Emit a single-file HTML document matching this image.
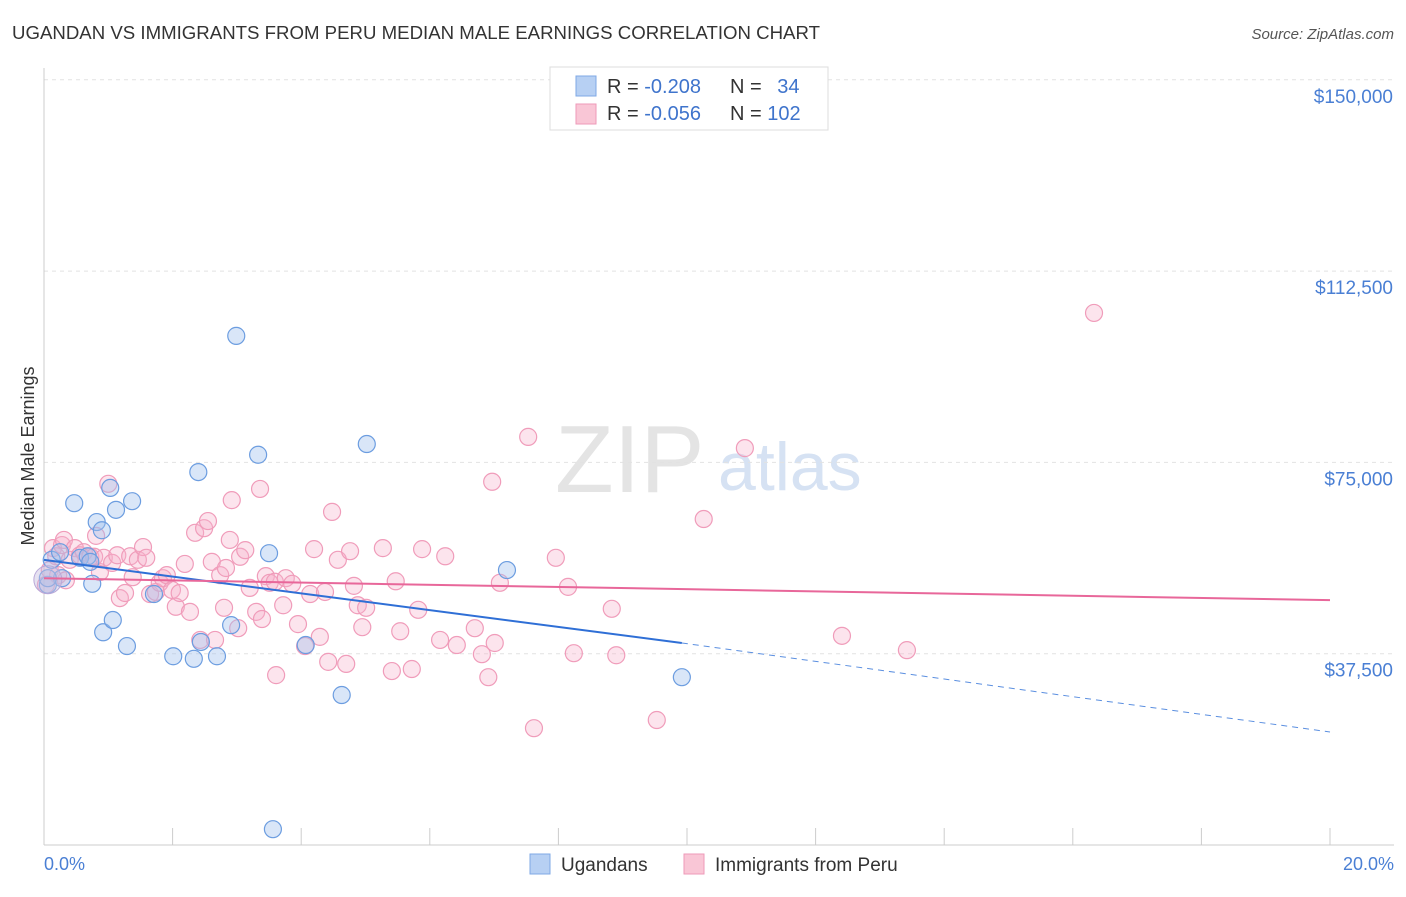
<!DOCTYPE html>
<html><head><meta charset="utf-8">
<style>
body{margin:0;background:#fff;font-family:"Liberation Sans",sans-serif;}
svg text{font-family:"Liberation Sans",sans-serif;}
</style></head>
<body>
<svg id="chart" width="1406" height="892" xmlns="http://www.w3.org/2000/svg">
<text x="12" y="39" font-size="18" fill="#333" textLength="808" lengthAdjust="spacingAndGlyphs">UGANDAN VS IMMIGRANTS FROM PERU MEDIAN MALE EARNINGS CORRELATION CHART</text>
<text x="1394" y="39" font-size="15" fill="#555" text-anchor="end" font-style="italic">Source: ZipAtlas.com</text>
<text x="555" y="492" font-size="96" fill="#e4e4e4" font-family="Liberation Serif">ZIP</text>
<text x="718" y="490" font-size="68" fill="#d6e2f3">atlas</text>
<g id="grid"></g>
<g id="axes"></g>
<g id="pts"></g>
<g id="trend"></g>
<text transform="translate(34,456) rotate(-90)" font-size="18" fill="#333" text-anchor="middle">Median Male Earnings</text>
<text x="44" y="870" font-size="18" fill="#4a7fd4">0.0%</text>
<text x="1394" y="870" font-size="18" fill="#4a7fd4" text-anchor="end">20.0%</text>
<g>
<rect x="550" y="67" width="278" height="63" fill="#fff" stroke="#ddd"/>
<rect x="576" y="76" width="20" height="20" fill="#b7d0f3" stroke="#7fa8e6"/>
<rect x="576" y="104" width="20" height="20" fill="#f9c6d6" stroke="#ee9ab8"/>
<text x="607" y="93" font-size="20" fill="#333">R = <tspan fill="#3f74cc">-0.208</tspan></text>
<text x="730" y="93" font-size="20" fill="#333">N = <tspan fill="#3f74cc" dx="10">34</tspan></text>
<text x="607" y="120" font-size="20" fill="#333">R = <tspan fill="#3f74cc">-0.056</tspan></text>
<text x="730" y="120" font-size="20" fill="#333">N = <tspan fill="#3f74cc">102</tspan></text>
</g>
<g>
<rect x="530" y="854" width="20" height="20" fill="#b7d0f3" stroke="#7fa8e6"/>
<text x="561" y="871" font-size="19" fill="#333">Ugandans</text>
<rect x="684" y="854" width="20" height="20" fill="#f9c6d6" stroke="#ee9ab8"/>
<text x="715" y="871" font-size="19" fill="#333">Immigrants from Peru</text>
</g>
</svg>
<script>
const yTicks=[37500,75000,112500,150000];
const yTickLabels=["$37,500","$75,000","$112,500","$150,000"];
const xTicks=[0,2,4,6,8,10,12,14,16,18,20];
const blueX=[0.06,0.12,0.25,0.28,0.47,0.56,0.68,0.75,0.82,0.90,0.92,1.03,1.07,1.12,1.29,1.37,1.71,2.01,2.33,2.40,2.44,2.69,2.91,2.99,3.33,3.50,3.56,4.07,4.63,5.02,7.20,9.92,0.06,0.72];
const blueY=[51000,55900,57400,52300,67000,56300,56600,51200,63300,61700,41700,70000,44100,65700,39000,67400,49200,37000,36500,73100,39800,37000,43100,99800,76500,57200,3100,39200,29400,78600,53900,32900,52300,55500];
const pinkX=[0.03,0.09,0.14,0.19,0.22,0.28,0.31,0.34,0.40,0.48,0.56,0.62,0.72,0.78,0.81,0.87,0.93,1.00,1.06,1.14,1.18,1.26,1.34,1.38,1.46,1.54,1.59,1.65,1.74,1.80,1.85,1.91,1.99,2.05,2.11,2.19,2.27,2.35,2.43,2.49,2.55,2.61,2.66,2.74,2.80,2.83,2.89,2.92,3.02,3.05,3.13,3.20,3.30,3.36,3.39,3.45,3.51,3.59,3.61,3.72,3.76,3.86,3.95,4.06,4.14,4.20,4.29,4.37,4.42,4.48,4.57,4.70,4.76,4.82,4.88,4.95,5.01,5.27,5.41,5.47,5.54,5.72,5.82,5.88,6.16,6.24,6.42,6.70,6.81,6.91,6.97,7.01,7.09,7.53,7.62,7.96,8.15,8.24,8.83,8.90,9.53,10.26,10.90,12.41,13.42,16.33];
const pinkY=[51000,53900,58200,56600,52900,58800,59800,51900,55900,58200,56800,57400,56500,56500,60600,53500,56300,70800,55300,56800,48400,49400,56600,52500,55900,58400,56300,49200,49600,51400,52300,52900,50000,46700,49400,55100,45700,61200,40200,62100,63500,55500,40200,52900,46500,54300,59800,67600,42500,56500,57800,50400,45700,69800,44300,52700,51400,51600,33300,47000,52300,51200,43300,39000,49200,58000,40800,49600,35900,65300,55900,35500,57600,50800,47000,42700,46500,58200,34100,51700,41900,34500,46100,58000,40200,56600,39200,42500,37400,32900,71200,39600,51400,80000,22900,56300,50600,37600,46300,37200,24500,63900,77800,41000,38200,104300];
const blueTrend=[55900,39600,22150];
const blueTrendX=[0,9.92,20];
const pinkTrend=[52300,48000];
const pinkTrendX=[0,20];
const NS="http://www.w3.org/2000/svg";
const xs=v=>44+v/20*1286;
const ys=v=>845-v/37500*191.3;
function mk(tag,attrs,parent){const e=document.createElementNS(NS,tag);for(const k in attrs)e.setAttribute(k,attrs[k]);parent.appendChild(e);return e;}
const grid=document.getElementById('grid'),axes=document.getElementById('axes'),pts=document.getElementById('pts'),tr=document.getElementById('trend');
yTicks.forEach((t,i)=>{
 const l=mk('line',{x1:44,x2:1394,y1:ys(t),y2:ys(t),stroke:'#e2e2e2','stroke-dasharray':'4 4'},grid);
 
 
 const tx=mk('text',{x:1393,y:ys(t)+23,'font-size':19,fill:'#4a7fd4','text-anchor':'end'},grid);
 tx.textContent=yTickLabels[i];
 
 
});
const ya=mk('line',{x1:44,x2:44,y1:68,y2:845,stroke:'#ccc'},axes);


const xa=mk('line',{x1:44,x2:1394,y1:845,y2:845,stroke:'#ccc'},axes);


xTicks.forEach(t=>{
 const l=mk('line',{x1:xs(t),x2:xs(t),y1:828,y2:845,stroke:'#ccc'},axes);
 
 
});
pinkX.forEach((x,i)=>{
 const c=mk('circle',{cx:xs(x),cy:ys(pinkY[i]),r:8.5,fill:'rgba(246,178,202,0.35)',stroke:'#f09cba','stroke-width':1.2},pts);
 
 
});
blueX.forEach((x,i)=>{
 const c=mk('circle',{cx:xs(x),cy:ys(blueY[i]),r:8.5,fill:'rgba(160,192,238,0.4)',stroke:'#6c9de0','stroke-width':1.2},pts);
 
 
});
const big=mk('circle',{cx:xs(0.06),cy:ys(52000),r:14,fill:'rgba(200,190,225,0.45)',stroke:'#b9a8d8'},pts);


const b1=mk('line',{x1:xs(blueTrendX[0]),y1:ys(blueTrend[0]),x2:xs(blueTrendX[1]),y2:ys(blueTrend[1]),stroke:'#2f6fd6','stroke-width':2},tr);


const b2=mk('line',{x1:xs(blueTrendX[1]),y1:ys(blueTrend[1]),x2:xs(blueTrendX[2]),y2:ys(blueTrend[2]),stroke:'#5b8fe0','stroke-width':1,'stroke-dasharray':'6 5'},tr);


const p1=mk('line',{x1:xs(pinkTrendX[0]),y1:ys(pinkTrend[0]),x2:xs(pinkTrendX[1]),y2:ys(pinkTrend[1]),stroke:'#e8679a','stroke-width':2},tr);


</script>
</body></html>
